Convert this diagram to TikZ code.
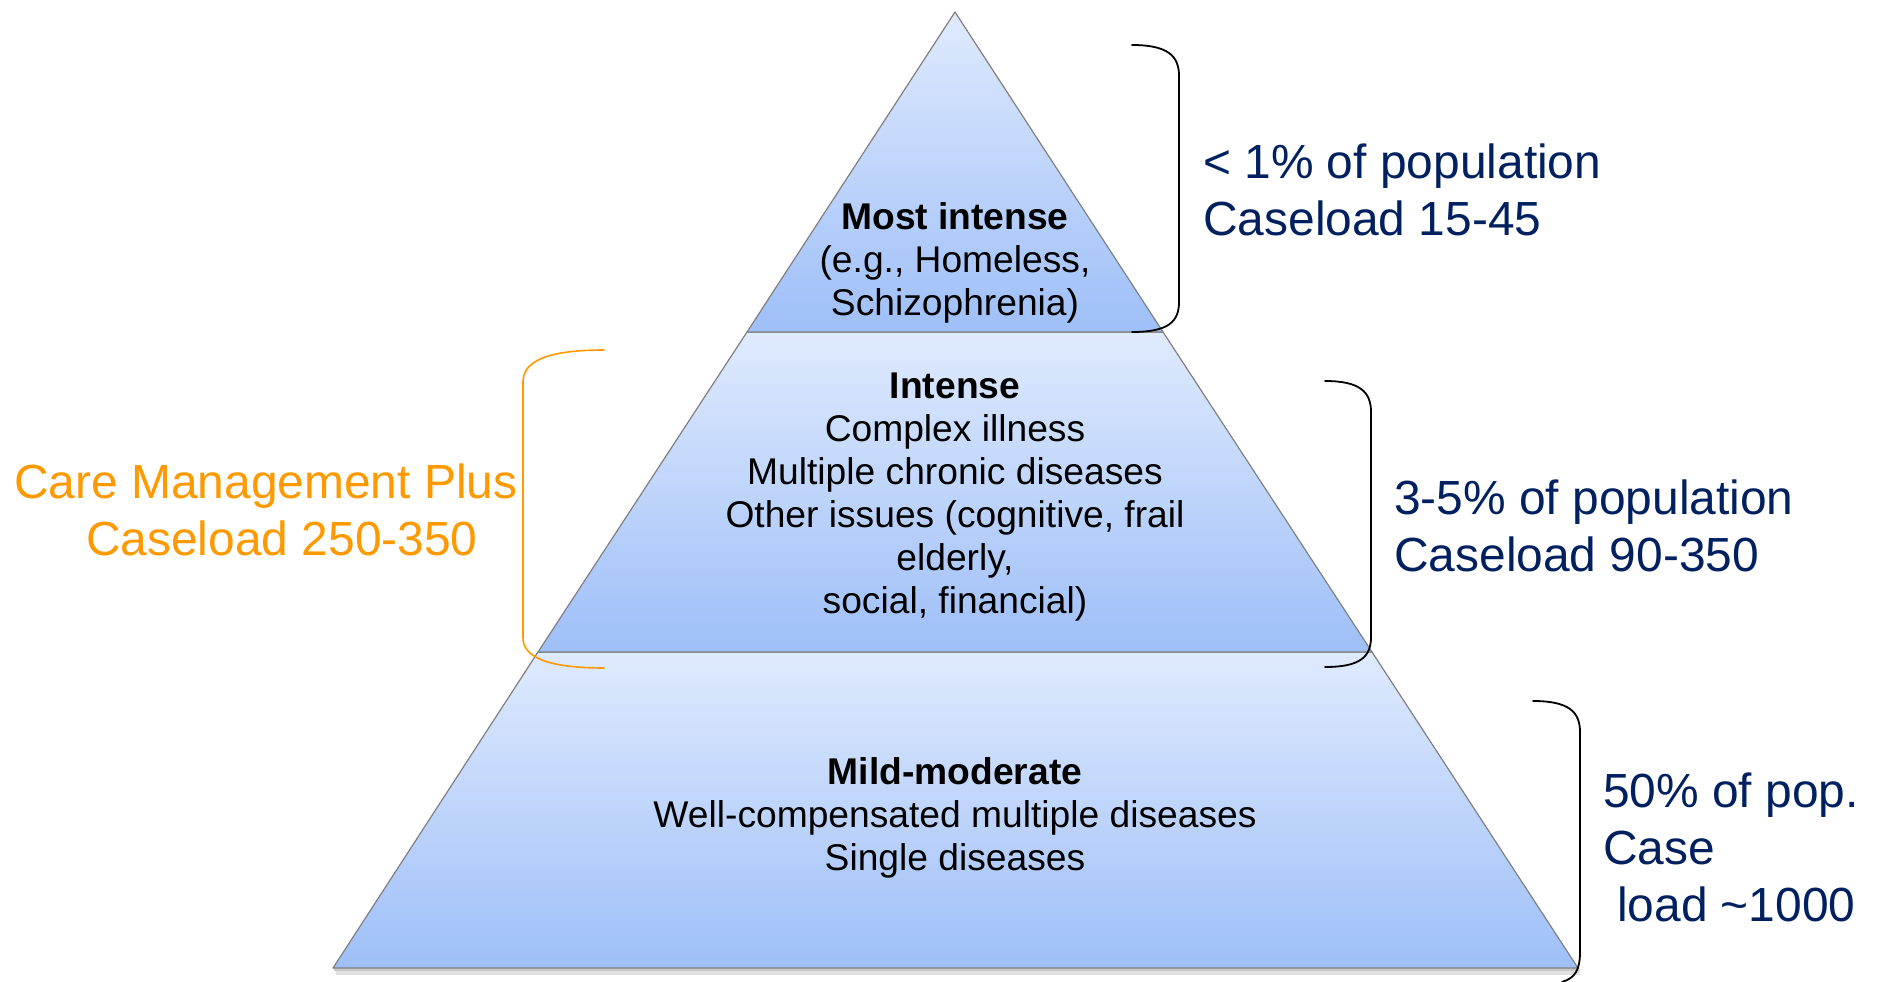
\documentclass[tikz,border=0pt]{standalone}
\usepackage{fontspec}
\setmainfont{Liberation Sans}
\definecolor{navy}{RGB}{0,32,96}
\definecolor{orng}{RGB}{255,153,0}
\definecolor{tiertop}{RGB}{223,234,253}
\definecolor{tierbot}{RGB}{158,191,248}
\definecolor{edgegray}{RGB}{128,128,128}
\tikzset{
  tier/.style={top color=tiertop, bottom color=tierbot, draw=edgegray, line width=1.2pt, line join=round},
  pyrtext/.style={align=center, inner sep=0pt, text=black, font=\fontsize{37.2}{43}\selectfont},
  sidelabel/.style={align=left, anchor=west, inner sep=0pt, font=\fontsize{47.9}{57}\selectfont},
  bracketline/.style={line width=1.8pt, line cap=round}
}
\begin{document}
\begin{tikzpicture}[x=1pt,y=-1pt]
\useasboundingbox (0,0) rectangle (1877,982);
% shadow under the base
\fill[black!12] (336,969) rectangle (1580,975);
\fill[black!22] (334,968) rectangle (1579,971);
% tiers
\shade[tier] (333,968) -- (538,652) -- (1372,652) -- (1578,968) -- cycle;
\shade[tier] (538,652) -- (747,332) -- (1163,332) -- (1372,652) -- cycle;
\shade[tier] (747,332) -- (955,12) -- (1163,332) -- cycle;
% tier texts
\node[pyrtext] (top) at (955,263) {\textbf{Most intense}\\(e.g., Homeless,\\Schizophrenia)};
\node[pyrtext] (mid) at (955,497) {\textbf{Intense}\\Complex illness\\Multiple chronic diseases\\Other issues (cognitive, frail\\elderly,\\social, financial)};
\node[pyrtext] (bot) at (955,818) {\textbf{Mild-moderate}\\Well-compensated multiple diseases\\Single diseases};
% right brackets
\draw[bracketline] (1132,45) .. controls (1168,45) and (1179,56) .. (1179,76) -- (1179,302) .. controls (1179,322) and (1168,332) .. (1132,332);
\draw[bracketline] (1325,381) .. controls (1360,381) and (1371,392) .. (1371,412) -- (1371,637) .. controls (1371,657) and (1360,667) .. (1325,667);
\draw[bracketline] (1533,701) .. controls (1569,701) and (1580,712) .. (1580,732) -- (1580,952) .. controls (1580,970) and (1575,978) .. (1562,982);
% left orange bracket
\draw[bracketline, orng, line width=1.6pt] (604,350) .. controls (545,350) and (523,362) .. (523,382) -- (523,638) .. controls (523,656) and (545,668) .. (604,668);
% side labels
\node[sidelabel, text=navy] (l1) at (1203,190) {< 1\% of population\\Caseload 15-45};
\node[sidelabel, text=navy] (l2) at (1394,526) {3-5\% of population\\Caseload 90-350};
\node[sidelabel, text=navy] (l3) at (1603,847) {50\% of pop.\\Case\\\hspace*{0.29em}load \textasciitilde 1000};
\node[sidelabel, text=orng] (l4) at (14,510) {Care Management Plus\\\hspace*{72pt}Caseload 250-350};
\end{tikzpicture}
\end{document}
